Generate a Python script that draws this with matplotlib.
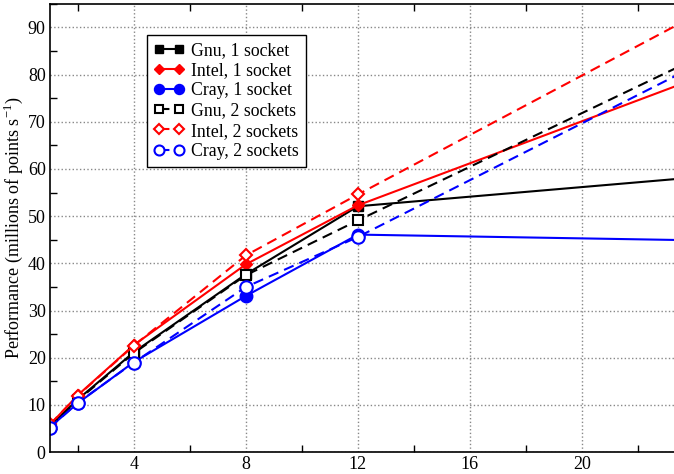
import numpy as np
import matplotlib.pyplot as plt
from matplotlib.ticker import MultipleLocator

plt.rcParams['font.family'] = 'serif'
plt.rcParams['font.serif'] = ['Liberation Serif', 'DejaVu Serif']
plt.rcParams['mathtext.fontset'] = 'custom'
plt.rcParams['mathtext.rm'] = 'Liberation Serif'

# threads
x = np.array([1, 2, 4, 8, 12, 24])

gnu_1 = [5.5, 11.2, 21.2, 37.7, 52.1, 58.2]
intel_1 = [5.8, 12.1, 22.7, 39.8, 52.3, 79.0]
cray_1 = [5.3, 10.4, 19.1, 33.1, 46.1, 44.9]
gnu_2 = [5.5, 11.0, 21.0, 37.5, 49.1, 83.2]
intel_2 = [5.9, 12.0, 22.6, 41.7, 54.6, 92.4]
cray_2 = [5.2, 10.5, 19.0, 35.0, 45.6, 81.7]

fig = plt.figure(figsize=(6.74, 4.74), dpi=100)
ax = fig.add_axes([0.074, 0.046, 0.926, 0.946])

dash = (0, (5, 3))
ax.plot(x, gnu_1, color='black', lw=1.5, marker='s', ms=7, label='Gnu, 1 socket')
ax.plot(x, intel_1, color='red', lw=1.5, marker='D', ms=6, label='Intel, 1 socket')
ax.plot(x, cray_1, color='blue', lw=1.5, marker='o', ms=9, label='Cray, 1 socket')
ax.plot(x, gnu_2, color='black', lw=1.5, ls=dash, marker='s', ms=7, mfc='white', mew=1.5,
        label='Gnu, 2 sockets')
ax.plot(x, intel_2, color='red', lw=1.5, ls=dash, marker='D', ms=6, mfc='white', mew=1.5,
        label='Intel, 2 sockets')
ax.plot(x, cray_2, color='blue', lw=1.5, ls=dash, marker='o', ms=9, mfc='white', mew=1.5,
        label='Cray, 2 sockets')

ax.set_xlim(1, 23.29)
ax.set_ylim(0, 95)
ax.xaxis.set_major_locator(MultipleLocator(4))
ax.xaxis.set_minor_locator(MultipleLocator(2))
ax.yaxis.set_major_locator(MultipleLocator(10))
ax.yaxis.set_minor_locator(MultipleLocator(5))
ax.tick_params(which='major', length=0, labelsize=13, pad=3)
ax.tick_params(which='minor', length=5, direction='in', top=True, right=False, width=1)
ax.grid(True, which='major', color='#888888', ls=':', lw=1)
ax.spines['right'].set_visible(False)
for s in ['left', 'bottom', 'top']:
    ax.spines[s].set_linewidth(1.2)

ax.set_ylabel(r'Performance (millions of points s$^{\mathregular{-1}}$)', fontsize=13, labelpad=2)

leg = ax.legend(loc='upper left', bbox_to_anchor=(0.155, 0.931), borderaxespad=0,
                numpoints=2, fontsize=12.8, fancybox=False, edgecolor='black', framealpha=1,
                handlelength=1.7, handletextpad=0.4, labelspacing=0.18, borderpad=0.4,
                markerscale=0.8)
leg.get_frame().set_linewidth(1.0)

plt.savefig('out.png', dpi=100)
plt.close()
